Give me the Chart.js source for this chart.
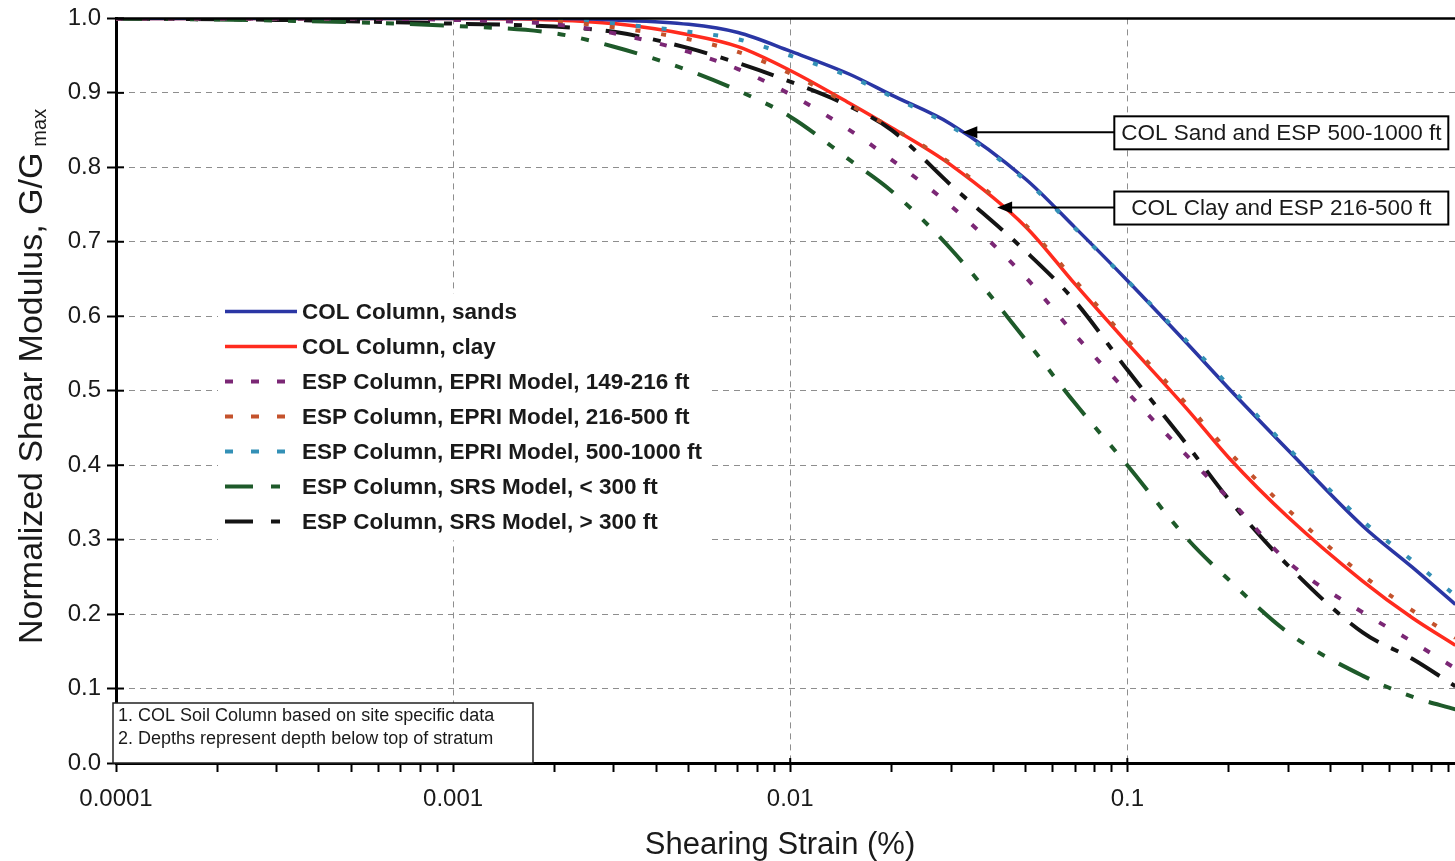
<!DOCTYPE html>
<html>
<head>
<meta charset="utf-8">
<title>Shear Modulus Degradation Curves</title>
<script src="https://cdn.jsdelivr.net/npm/chart.js@4.4.0/dist/chart.umd.min.js"></script>
<style>
  html, body { margin: 0; padding: 0; background: #fff; overflow: hidden; }
  #wrap { width: 1455px; height: 861px; position: relative; overflow: hidden; }
  #chart { position: absolute; left: 0; top: -2px; }
</style>
</head>
<body>
<div id="wrap"><canvas id="chart" width="1462" height="863"></canvas></div>
<script>
// Shearing strain (%) where the curves were read
const strain = [0.0001, 0.0003, 0.001, 0.002, 0.003, 0.005, 0.007, 0.01, 0.015, 0.02, 0.03, 0.05, 0.07, 0.1, 0.15, 0.2, 0.3, 0.5, 0.7, 0.94];

// G/Gmax for each curve
const colSands = [1.0, 1.0, 1.0, 1.0, 0.998, 0.992, 0.981, 0.956, 0.925, 0.897, 0.858, 0.784, 0.719, 0.648, 0.564, 0.503, 0.42, 0.318, 0.263, 0.213];
const colClay  = [1.0, 1.0, 1.0, 0.998, 0.993, 0.978, 0.962, 0.93, 0.886, 0.853, 0.803, 0.72, 0.643, 0.564, 0.476, 0.41, 0.33, 0.244, 0.195, 0.158];
const epri149  = [1.0, 1.0, 0.998, 0.992, 0.98, 0.955, 0.932, 0.898, 0.85, 0.81, 0.748, 0.652, 0.575, 0.498, 0.413, 0.355, 0.27, 0.202, 0.163, 0.127];
const epri216  = [1.0, 1.0, 1.0, 0.996, 0.988, 0.972, 0.955, 0.926, 0.884, 0.853, 0.805, 0.722, 0.648, 0.568, 0.482, 0.418, 0.34, 0.252, 0.205, 0.168];
const epri500  = [1.0, 1.0, 1.0, 0.999, 0.993, 0.982, 0.972, 0.95, 0.922, 0.895, 0.855, 0.782, 0.718, 0.648, 0.567, 0.507, 0.423, 0.325, 0.272, 0.225];
const srsLt300 = [1.0, 0.997, 0.99, 0.98, 0.962, 0.93, 0.903, 0.868, 0.81, 0.768, 0.69, 0.568, 0.483, 0.4, 0.302, 0.246, 0.175, 0.117, 0.089, 0.072];
const srsGt300 = [1.0, 0.998, 0.993, 0.989, 0.982, 0.96, 0.94, 0.915, 0.882, 0.85, 0.776, 0.687, 0.62, 0.528, 0.428, 0.354, 0.265, 0.175, 0.14, 0.103];

const seriesLabels = [
    'COL Column, sands',
    'COL Column, clay',
    'ESP Column, EPRI Model, 149-216 ft',
    'ESP Column, EPRI Model, 216-500 ft',
    'ESP Column, EPRI Model, 500-1000 ft',
    'ESP Column, SRS Model, < 300 ft',
    'ESP Column, SRS Model, > 300 ft'
];

const xMajor = [0.0001, 0.001, 0.01, 0.1];
const xTickLabels = ['0.0001', '0.001', '0.01', '0.1'];

const callouts = [
    { text: 'COL Sand and ESP 500-1000 ft', tipX: 0.0324, tipY: 0.847 },
    { text: 'COL Clay and ESP 216-500 ft', tipX: 0.0411, tipY: 0.746 }
];
const notes = ['1. COL Soil Column based on site specific data', '2. Depths represent depth below top of stratum'];

const FONT = '"Liberation Sans", Arial, Helvetica, sans-serif';

function makeLine(label, values, color, width, dash, legendDash, order) {
    return {
        label: label,
        data: strain.map((s, i) => ({ x: s, y: values[i] })),
        borderColor: color,
        backgroundColor: color,
        borderWidth: width,
        borderDash: dash,
        legendDash: legendDash,
        borderCapStyle: 'butt',
        pointRadius: 0,
        fill: false,
        cubicInterpolationMode: 'monotone',
        order: order
    };
}

const datasets = [
    makeLine(seriesLabels[0], colSands, '#2a36a4', 3.5, [], [], 2),
    makeLine(seriesLabels[1], colClay, '#ff2b1e', 3.5, [], [], 2),
    makeLine(seriesLabels[2], epri149, '#7b2775', 4, [7, 19], [8, 18], 1),
    makeLine(seriesLabels[3], epri216, '#c4522c', 4, [5, 21], [8, 18], 1),
    makeLine(seriesLabels[4], epri500, '#3390b6', 4, [5, 21], [8, 18], 1),
    makeLine(seriesLabels[5], srsLt300, '#1e5a2a', 4, [34, 16, 8, 16, 8, 16], [28, 18, 9, 18], 1),
    makeLine(seriesLabels[6], srsGt300, '#141414', 4, [34, 14, 8, 14], [28, 18, 9, 18], 1)
];

// legend, callouts, notes, axis titles and frame drawn on top
const decor = {
    id: 'decor',
    afterDraw(chart) {
        const ctx = chart.ctx;
        const a = chart.chartArea;
        const xs = chart.scales.x;
        const ys = chart.scales.y;
        ctx.save();

        // top frame line
        ctx.strokeStyle = '#000';
        ctx.lineWidth = 2.5;
        ctx.setLineDash([]);
        ctx.beginPath();
        ctx.moveTo(a.left, a.top);
        ctx.lineTo(a.right, a.top);
        ctx.stroke();

        // inner part of the y ticks and x major ticks
        ctx.lineWidth = 2;
        ys.ticks.forEach(t => {
            const py = ys.getPixelForValue(t.value);
            ctx.beginPath();
            ctx.moveTo(a.left, py);
            ctx.lineTo(a.left + 8, py);
            ctx.stroke();
        });
        xMajor.forEach(v => {
            const px = xs.getPixelForValue(v);
            ctx.beginPath();
            ctx.moveTo(px, a.bottom - 5);
            ctx.lineTo(px, a.bottom);
            ctx.stroke();
        });

        // legend
        const lx = a.left + 109, ly = a.top + 293, rowH = 35;
        ctx.fillStyle = '#fff';
        ctx.fillRect(lx - 7, ly - 18, 490, rowH * 7 + 2);
        chart.data.datasets.forEach((ds, i) => {
            const y = ly + i * rowH;
            ctx.strokeStyle = ds.borderColor;
            ctx.lineWidth = ds.borderWidth;
            ctx.setLineDash(ds.legendDash);
            ctx.beginPath();
            ctx.moveTo(lx, y);
            ctx.lineTo(lx + 72, y);
            ctx.stroke();
            ctx.setLineDash([]);
            ctx.fillStyle = '#1a1a1a';
            ctx.font = 'bold 22.5px ' + FONT;
            ctx.textBaseline = 'middle';
            ctx.textAlign = 'left';
            ctx.fillText(ds.label, lx + 77, y + 1);
        });

        // callouts with arrows
        const boxLeft = xs.getPixelForValue(0.0915);
        callouts.forEach(c => {
            const tx = xs.getPixelForValue(c.tipX);
            const ty = ys.getPixelForValue(c.tipY);
            ctx.strokeStyle = '#000';
            ctx.fillStyle = '#000';
            ctx.lineWidth = 2;
            ctx.beginPath();
            ctx.moveTo(boxLeft, ty);
            ctx.lineTo(tx + 12, ty);
            ctx.stroke();
            ctx.beginPath();
            ctx.moveTo(tx, ty);
            ctx.lineTo(tx + 15, ty - 6);
            ctx.lineTo(tx + 15, ty + 6);
            ctx.closePath();
            ctx.fill();
            ctx.fillStyle = '#fff';
            ctx.fillRect(boxLeft, ty - 16, 334, 33);
            ctx.lineWidth = 2;
            ctx.strokeRect(boxLeft, ty - 16, 334, 33);
            ctx.fillStyle = '#1a1a1a';
            ctx.font = '22.5px ' + FONT;
            ctx.textAlign = 'center';
            ctx.textBaseline = 'middle';
            ctx.fillText(c.text, boxLeft + 167, ty + 1);
        });

        // notes box
        const nTop = a.bottom - 60;
        ctx.fillStyle = '#fff';
        ctx.fillRect(a.left - 3, nTop, 420, 60);
        ctx.strokeStyle = '#222';
        ctx.lineWidth = 1.5;
        ctx.strokeRect(a.left - 3, nTop, 420, 60);
        ctx.fillStyle = '#1a1a1a';
        ctx.font = '18px ' + FONT;
        ctx.textAlign = 'left';
        ctx.textBaseline = 'alphabetic';
        notes.forEach((n, i) => ctx.fillText(n, a.left + 2, nTop + 18 + i * 23));

        // x axis title
        ctx.font = '31px ' + FONT;
        ctx.textAlign = 'center';
        ctx.fillText('Shearing Strain (%)', 780, a.bottom + 91);

        // y axis title with subscript
        ctx.translate(42, a.top + 358);
        ctx.rotate(-Math.PI / 2);
        ctx.font = '34px ' + FONT;
        const main = 'Normalized Shear Modulus, G/G';
        const w = ctx.measureText(main).width;
        ctx.font = '20px ' + FONT;
        const ws = ctx.measureText('max').width;
        const x0 = -(w + 6 + ws) / 2;
        ctx.textAlign = 'left';
        ctx.font = '34px ' + FONT;
        ctx.fillText(main, x0, 0);
        ctx.font = '20px ' + FONT;
        ctx.fillText('max', x0 + w + 6, 4);

        ctx.restore();
    }
};

new Chart(document.getElementById('chart').getContext('2d'), {
    type: 'line',
    data: { datasets: datasets },
    options: {
        responsive: false,
        animation: false,
        devicePixelRatio: 1,
        layout: { padding: { top: 18, left: 0, right: 0, bottom: 0 } },
        plugins: {
            legend: { display: false },
            tooltip: { enabled: false }
        },
        scales: {
            x: {
                type: 'logarithmic',
                min: 0.0001,
                max: 0.94,
                afterFit: function(scale) { scale.height = 98; },
                afterBuildTicks: function(scale) {
                    const ticks = [];
                    xMajor.forEach(d => {
                        for (let k = 1; k <= 9; k++) {
                            const v = d * k;
                            if (v <= scale.max) ticks.push({ value: v, major: k === 1 });
                        }
                    });
                    scale.ticks = ticks;
                },
                ticks: {
                    autoSkip: false,
                    maxRotation: 0,
                    padding: 13,
                    color: '#1a1a1a',
                    font: { family: FONT, size: 24 },
                    callback: function(value) {
                        const i = xMajor.indexOf(value);
                        return i >= 0 ? xTickLabels[i] : '';
                    }
                },
                grid: {
                    color: ctx => (ctx.tick && xMajor.indexOf(ctx.tick.value) >= 0) ? '#8e8e8e' : 'rgba(0,0,0,0)',
                    lineWidth: 1,
                    tickColor: '#000',
                    tickWidth: 2,
                    tickLength: 9
                },
                border: { color: '#000', width: 3, dash: [6, 5] }
            },
            y: {
                type: 'linear',
                min: 0,
                max: 1,
                afterFit: function(scale) { scale.width = 116; },
                ticks: {
                    stepSize: 0.1,
                    padding: 6,
                    color: '#1a1a1a',
                    font: { family: FONT, size: 24 },
                    callback: v => v.toFixed(1)
                },
                grid: {
                    color: '#8e8e8e',
                    lineWidth: 1,
                    tickColor: '#000',
                    tickWidth: 2,
                    tickLength: 9
                },
                border: { color: '#000', width: 3, dash: [6, 5] }
            }
        }
    },
    plugins: [decor]
});
</script>
</body>
</html>
